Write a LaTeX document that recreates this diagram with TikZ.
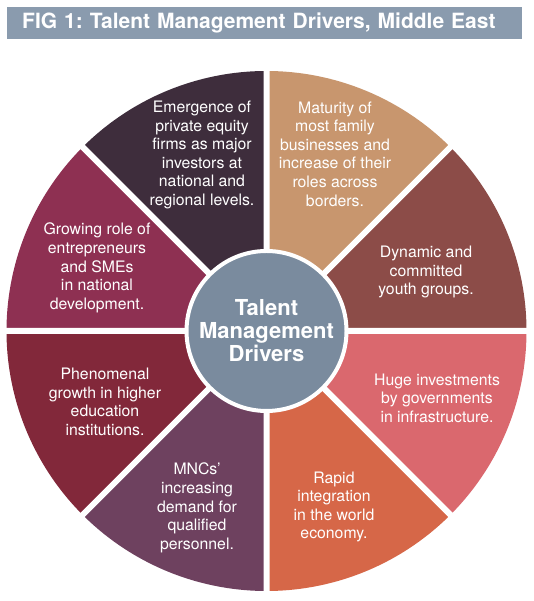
\documentclass[tikz,border=0pt]{standalone}
\usepackage{fontspec}
\setmainfont{TeX Gyre Heros}
\usepackage{xcolor}
\usepackage{tikz}
\frenchspacing
\definecolor{barslate}{RGB}{138,155,174}
\definecolor{hubslate}{RGB}{122,139,158}
\definecolor{plum}{RGB}{62,45,60}
\definecolor{sand}{RGB}{200,150,110}
\definecolor{rust}{RGB}{140,76,72}
\definecolor{salmon}{RGB}{218,104,110}
\definecolor{terracotta}{RGB}{214,103,72}
\definecolor{grape}{RGB}{110,65,95}
\definecolor{wine}{RGB}{130,40,58}
\definecolor{berry}{RGB}{142,48,82}

\begin{document}
\begin{tikzpicture}[
    x=1pt, y=1pt,
    driver/.style={text=white, align=center, inner sep=0pt,
                   font=\fontsize{15.8}{18.6}\selectfont},
    hub/.style={circle, fill=hubslate, draw=white, line width=4pt,
                minimum size=160pt, inner sep=0pt, text=white, align=center,
                font=\bfseries\fontsize{22}{23}\selectfont},
    gap/.style={white, line width=6pt},
    titlebar/.style={rectangle, fill=barslate, text=white, anchor=north west,
                     minimum width=515pt, minimum height=32pt, inner xsep=15pt,
                     text width=485pt, align=left,
                     font=\bfseries\fontsize{21}{23}\selectfont}
  ]
    \useasboundingbox (0,0) rectangle (533,601);
    \coordinate (c) at (266.5,270);

    % title
    \node[titlebar] (title) at (7,594) {FIG 1: Talent Management Drivers, Middle East};

    % sectors
    \fill[plum]       (c) -- ++(90:260)  arc[start angle=90,  end angle=135, radius=260] -- cycle;
    \fill[sand]       (c) -- ++(45:260)  arc[start angle=45,  end angle=90,  radius=260] -- cycle;
    \fill[rust]       (c) -- ++(0:260)   arc[start angle=0,   end angle=45,  radius=260] -- cycle;
    \fill[salmon]     (c) -- ++(-45:260) arc[start angle=-45, end angle=0,   radius=260] -- cycle;
    \fill[terracotta] (c) -- ++(-90:260) arc[start angle=-90, end angle=-45, radius=260] -- cycle;
    \fill[grape]      (c) -- ++(225:260) arc[start angle=225, end angle=270, radius=260] -- cycle;
    \fill[wine]       (c) -- ++(180:260) arc[start angle=180, end angle=225, radius=260] -- cycle;
    \fill[berry]      (c) -- ++(135:260) arc[start angle=135, end angle=180, radius=260] -- cycle;

    % white gaps between sectors
    \draw[gap] (c) -- ++(0:265)   (c) -- ++(45:265)  (c) -- ++(90:265)  (c) -- ++(135:265)
               (c) -- ++(180:265) (c) -- ++(225:265) (c) -- ++(270:265) (c) -- ++(315:265);

    \node[hub] (hub) at (c) {Talent\\Management\\Drivers};

    \node[driver] (equity)    at (202,446) {Emergence of\\private equity\\firms as major\\investors at\\national and\\regional levels.};
    \node[driver] (family)    at (335,447) {Maturity of\\most family\\businesses and\\increase of their\\roles across\\borders.};
    \node[driver] (youth)     at (426,329) {Dynamic and\\committed\\youth groups.};
    \node[driver] (infra)     at (437,203) {Huge investments\\by governments\\in infrastructure.};
    \node[driver] (economy)   at (334,94)  {Rapid\\integration\\in the world\\economy.};
    \node[driver] (mncs)      at (197,93)  {MNCs'\\increasing\\demand for\\qualified\\personnel.};
    \node[driver] (education) at (105,199) {Phenomenal\\growth in higher\\education\\institutions.};
    \node[driver] (smes)      at (97,333)  {Growing role of\\entrepreneurs\\and SMEs\\in national\\development.};
  \end{tikzpicture}
\end{document}
